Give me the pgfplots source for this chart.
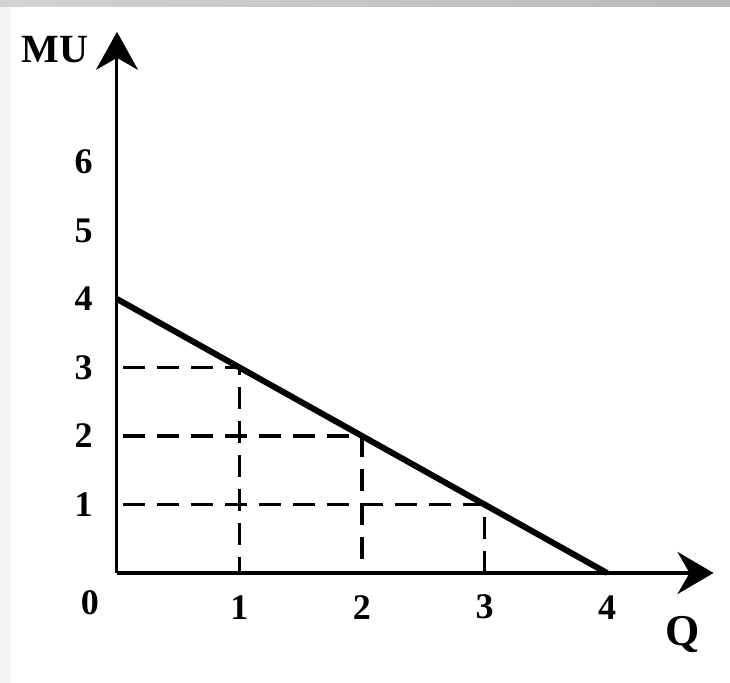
\documentclass[border=0pt]{standalone}
\usepackage{fontspec}
\setmainfont{Liberation Serif}
\usepackage{pgfplots}
\pgfplotsset{compat=1.18}
\usetikzlibrary{arrows.meta}

\begin{document}
\begin{tikzpicture}
  % page frame (scan background), origin of the axes at (0,0)
  \fill[white] (-58.5pt,-55pt) rectangle (306.5pt,286.5pt);
  \fill[gray!8] (-58.5pt,-55pt) rectangle (-53pt,286.5pt);
  \shade[left color=gray!35, right color=gray!55] (-58.5pt,283pt) rectangle (306.5pt,286.5pt);

  \begin{axis}[
      anchor=origin, at={(0pt,0pt)},
      x=61.25pt, y=34.25pt,
      xmin=0, xmax=4.87, ymin=0, ymax=7.9,
      axis lines=left, clip=false,
      x axis line style={line width=2pt, -{Stealth[length=18pt,width=21pt,inset=6pt]}},
      y axis line style={line width=1.5pt, -{Stealth[length=19pt,width=21pt,inset=6pt]}},
      xtick={1,2,3,4}, ytick={1,2,3,4,5,6},
      tick style={draw=none},
      /pgf/number format/assume math mode=true,
      tick label style={font=\fontsize{18}{18}\selectfont\bfseries},
      xticklabel style={anchor=center, yshift=-15pt},
      yticklabel style={anchor=center, xshift=-14.5pt},
    ]
    \addplot[line width=1.9pt, dash pattern=on 11pt off 6pt] coordinates {(0.05,3)(1,3)(1,0)};
    \addplot[line width=1.9pt, dash pattern=on 11pt off 6pt] coordinates {(0.05,2)(2,2)(2,0)};
    \addplot[line width=1.9pt, dash pattern=on 11pt off 6pt] coordinates {(0.05,1)(3,1)(3,0)};
    \addplot[line width=3pt] coordinates {(0,4)(4,0)};
  \end{axis}

  \node[font=\fontsize{18}{18}\selectfont\bfseries] at (-13.5pt,-15pt) {0};
  \node[font=\fontsize{20}{20}\selectfont\bfseries] at (-31pt,261.5pt) {MU};
  \node[font=\fontsize{22}{22}\selectfont\bfseries] at (283pt,-31pt) {Q};
\end{tikzpicture}
\end{document}
